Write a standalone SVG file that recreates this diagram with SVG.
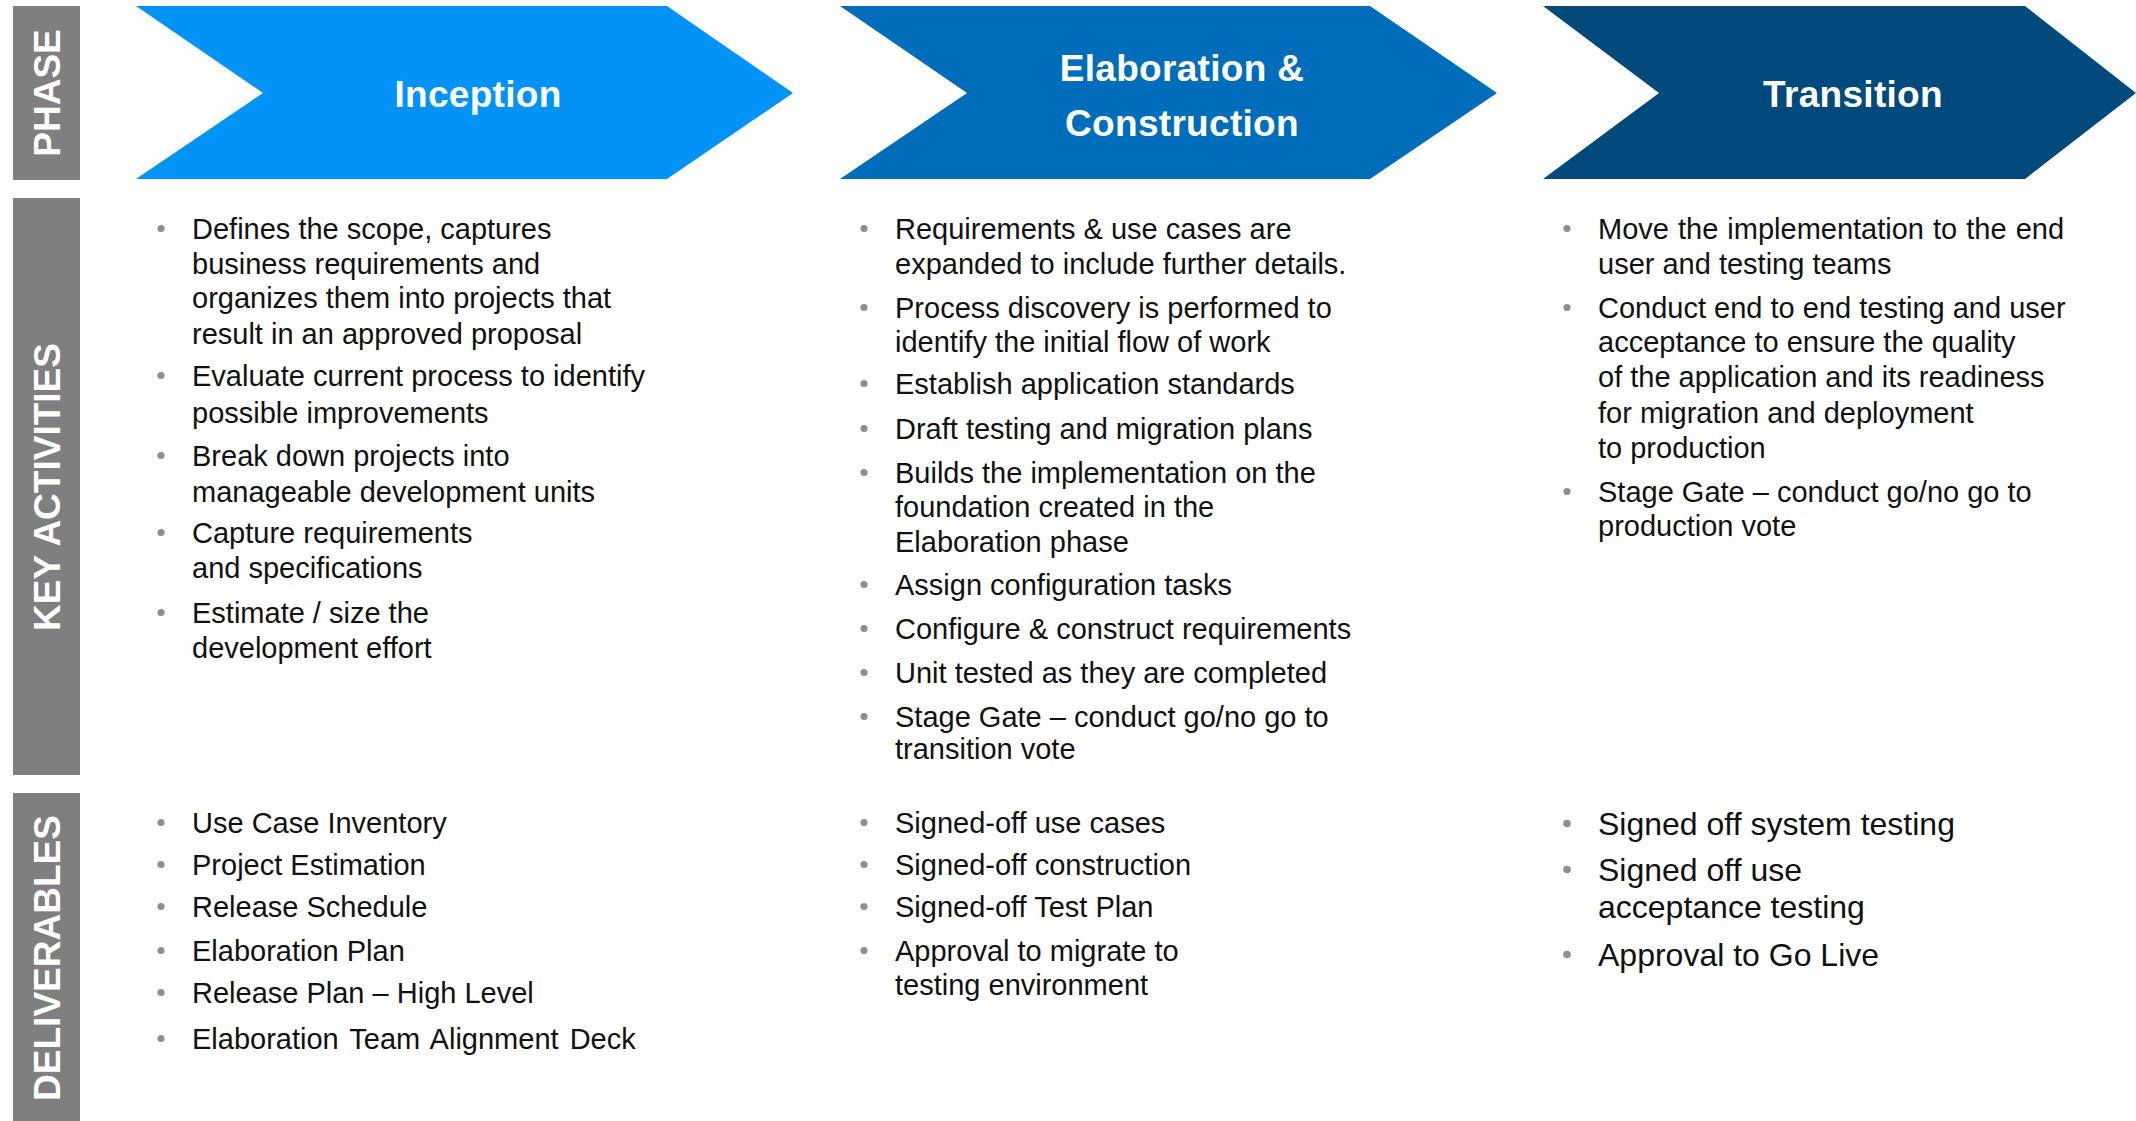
<svg xmlns="http://www.w3.org/2000/svg" width="2136" height="1121" viewBox="0 0 2136 1121">
<style>
.bar{fill:#7F7F7F}
.lbl{font-family:"Liberation Sans",Arial,sans-serif;font-weight:bold;font-size:37px;fill:#FFFFFF;text-anchor:middle}
.ph{font-family:"Liberation Sans",Arial,sans-serif;font-weight:bold;font-size:37px;fill:#FFFFFF;text-anchor:middle;letter-spacing:0.3px}
.t{font-family:"Liberation Sans",Arial,sans-serif;font-size:29px;fill:#111111}
.tl{font-family:"Liberation Sans",Arial,sans-serif;font-size:32px;fill:#111111}
.b{fill:#8F8F8F}
</style>
<rect width="2136" height="1121" fill="#FFFFFF"/>
<g id="label-phase"><rect class="bar" x="13" y="6" width="67" height="174"/><text class="lbl" transform="translate(46.5,93) rotate(-90)" y="13">PHASE</text></g>
<g id="label-key-activities"><rect class="bar" x="13" y="198" width="67" height="577"/><text class="lbl" transform="translate(46.5,487) rotate(-90)" y="13">KEY ACTIVITIES</text></g>
<g id="label-deliverables"><rect class="bar" x="13" y="793" width="67" height="328"/><text class="lbl" transform="translate(46.5,958) rotate(-90)" y="13">DELIVERABLES</text></g>

<g id="phase-inception"><polygon points="136,6 667,6 793,93 667,179 136,179 263,93" fill="#0393F7"/><text class="ph" x="478" y="107">Inception</text></g>
<g id="phase-elaboration"><polygon points="840,6 1370,6 1497,93 1370,179 840,179 967,93" fill="#006DBB"/><text class="ph" x="1182" y="81">Elaboration &amp;</text><text class="ph" x="1182" y="136">Construction</text></g>
<g id="phase-transition"><polygon points="1543,6 2025,6 2136,93 2025,179 1543,179 1659,93" fill="#034A7C"/><text class="ph" x="1853" y="107">Transition</text></g>

<g id="inception-activities" transform="translate(0,1.5)">
<circle class="b" cx="161" cy="227" r="3.6"/><text class="t" x="192" y="237">Defines the scope, captures</text><text class="t" x="192" y="272">business requirements and</text><text class="t" x="192" y="306">organizes them into projects that</text><text class="t" x="192" y="342">result in an approved proposal</text>
<circle class="b" cx="161" cy="374" r="3.6"/><text class="t" x="192" y="384">Evaluate current process to identify</text><text class="t" x="192" y="421">possible improvements</text>
<circle class="b" cx="161" cy="454" r="3.6"/><text class="t" x="192" y="464">Break down projects into</text><text class="t" x="192" y="500">manageable development units</text>
<circle class="b" cx="161" cy="531" r="3.6"/><text class="t" x="192" y="541">Capture requirements</text><text class="t" x="192" y="576">and specifications</text>
<circle class="b" cx="161" cy="611" r="3.6"/><text class="t" x="192" y="621">Estimate / size the</text><text class="t" x="192" y="656">development effort</text>
</g>

<g id="elaboration-activities" transform="translate(0,1.5)">
<circle class="b" cx="864" cy="227" r="3.6"/><text class="t" x="895" y="237">Requirements &amp; use cases are</text><text class="t" x="895" y="272">expanded to include further details.</text>
<circle class="b" cx="864" cy="306" r="3.6"/><text class="t" x="895" y="316">Process discovery is performed to</text><text class="t" x="895" y="350">identify the initial flow of work</text>
<circle class="b" cx="864" cy="382" r="3.6"/><text class="t" x="895" y="392">Establish application standards</text>
<circle class="b" cx="864" cy="427" r="3.6"/><text class="t" x="895" y="437">Draft testing and migration plans</text>
<circle class="b" cx="864" cy="471" r="3.6"/><text class="t" x="895" y="481">Builds the implementation on the</text><text class="t" x="895" y="515">foundation created in the</text><text class="t" x="895" y="550">Elaboration phase</text>
<circle class="b" cx="864" cy="583" r="3.6"/><text class="t" x="895" y="593">Assign configuration tasks</text>
<circle class="b" cx="864" cy="627" r="3.6"/><text class="t" x="895" y="637">Configure &amp; construct requirements</text>
<circle class="b" cx="864" cy="671" r="3.6"/><text class="t" x="895" y="681">Unit tested as they are completed</text>
<circle class="b" cx="864" cy="715" r="3.6"/><text class="t" x="895" y="725">Stage Gate – conduct go/no go to</text><text class="t" x="895" y="757">transition vote</text>
</g>

<g id="transition-activities" transform="translate(0,1.5)">
<circle class="b" cx="1567" cy="227" r="3.6"/><text class="t" x="1598" y="237" word-spacing="1">Move the implementation to the end</text><text class="t" x="1598" y="272">user and testing teams</text>
<circle class="b" cx="1567" cy="306" r="3.6"/><text class="t" x="1598" y="316">Conduct end to end testing and user</text><text class="t" x="1598" y="350">acceptance to ensure the quality</text><text class="t" x="1598" y="385">of the application and its readiness</text><text class="t" x="1598" y="421">for migration and deployment</text><text class="t" x="1598" y="456">to production</text>
<circle class="b" cx="1567" cy="490" r="3.6"/><text class="t" x="1598" y="500">Stage Gate – conduct go/no go to</text><text class="t" x="1598" y="534">production vote</text>
</g>

<g id="inception-deliverables" transform="translate(0,1.5)">
<circle class="b" cx="161" cy="821" r="3.6"/><text class="t" x="192" y="831">Use Case Inventory</text>
<circle class="b" cx="161" cy="863" r="3.6"/><text class="t" x="192" y="873">Project Estimation</text>
<circle class="b" cx="161" cy="905" r="3.6"/><text class="t" x="192" y="915">Release Schedule</text>
<circle class="b" cx="161" cy="949" r="3.6"/><text class="t" x="192" y="959">Elaboration Plan</text>
<circle class="b" cx="161" cy="991" r="3.6"/><text class="t" x="192" y="1001">Release Plan – High Level</text>
<circle class="b" cx="161" cy="1037" r="3.6"/><text class="t" x="192" y="1047" word-spacing="3">Elaboration Team Alignment Deck</text>
</g>

<g id="elaboration-deliverables" transform="translate(0,1.5)">
<circle class="b" cx="864" cy="821" r="3.6"/><text class="t" x="895" y="831">Signed-off use cases</text>
<circle class="b" cx="864" cy="863" r="3.6"/><text class="t" x="895" y="873">Signed-off construction</text>
<circle class="b" cx="864" cy="905" r="3.6"/><text class="t" x="895" y="915">Signed-off Test Plan</text>
<circle class="b" cx="864" cy="949" r="3.6"/><text class="t" x="895" y="959">Approval to migrate to</text><text class="t" x="895" y="993">testing environment</text>
</g>

<g id="transition-deliverables" transform="translate(0,1.5)">
<circle class="b" cx="1567" cy="822" r="3.8"/><text class="tl" x="1598" y="833">Signed off system testing</text>
<circle class="b" cx="1567" cy="868" r="3.8"/><text class="tl" x="1598" y="879">Signed off use</text><text class="tl" x="1598" y="916">acceptance testing</text>
<circle class="b" cx="1567" cy="953" r="3.8"/><text class="tl" x="1598" y="964">Approval to Go Live</text>
</g>
<g id="connectors"/>
</svg>
